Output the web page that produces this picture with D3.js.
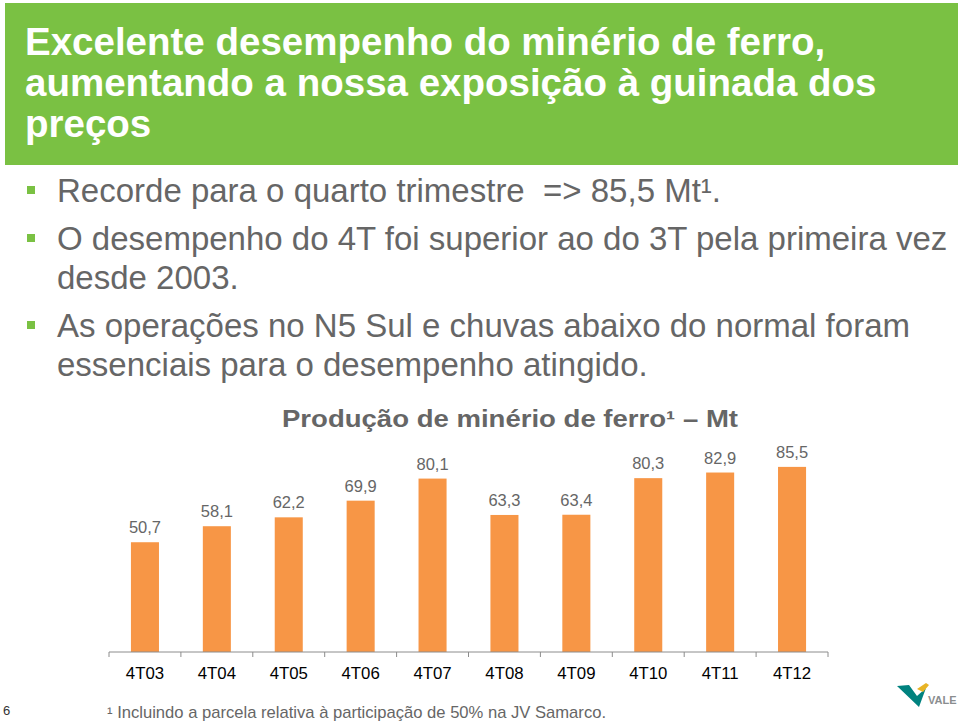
<!DOCTYPE html>
<html>
<head>
<meta charset="utf-8">
<script src="https://cdn.jsdelivr.net/npm/d3@7"></script>
<style>
  body { margin: 0; background: #fff; }
  svg text { white-space: pre; }
</style>
</head>
<body>
<svg id="slide" width="959" height="722" font-family="Liberation Sans"></svg>
<script>
// données du graphique
const trimestres = ["4T03", "4T04", "4T05", "4T06", "4T07", "4T08", "4T09", "4T10", "4T11", "4T12"];
const producao = [50.7, 58.1, 62.2, 69.9, 80.1, 63.3, 63.4, 80.3, 82.9, 85.5];
const rotulos = ["50,7", "58,1", "62,2", "69,9", "80,1", "63,3", "63,4", "80,3", "82,9", "85,5"];

const titulo = ["Excelente desempenho do minério de ferro,", "aumentando a nossa exposição à guinada dos", "preços"];
const bullets = [
  { lines: ["Recorde para o quarto trimestre  => 85,5 Mt¹."], y: 202 },
  { lines: ["O desempenho do 4T foi superior ao do 3T pela primeira vez", "desde 2003."], y: 250 },
  { lines: ["As operações no N5 Sul e chuvas abaixo do normal foram", "essenciais para o desempenho atingido."], y: 337 },
];

const svg = d3.select("#slide");

// bandeau vert du titre
svg.append("rect").attr("x", 5).attr("y", 3).attr("width", 953).attr("height", 162).attr("fill", "#7ac143");
titulo.forEach((t, i) => {
  svg.append("text")
    .attr("x", 25).attr("y", 55 + i * 41)
    .attr("fill", "#fff").attr("font-size", 38.5).attr("font-weight", "bold")
    .text(t);
});

// puces
bullets.forEach((b) => {
  svg.append("rect").attr("x", 27).attr("y", b.y - 16).attr("width", 8).attr("height", 8).attr("fill", "#7ac143");
  b.lines.forEach((l, j) => {
    svg.append("text")
      .attr("x", 57).attr("y", b.y + j * 39)
      .attr("fill", "#666").attr("font-size", 33)
      .text(l);
  });
});

// titre du graphique (étiré comme dans l'original)
svg.append("text")
  .attr("x", 282).attr("y", 427)
  .attr("fill", "#666").attr("font-size", 23).attr("font-weight", "bold")
  .attr("textLength", 456).attr("lengthAdjust", "spacingAndGlyphs")
  .text("Produção de minério de ferro¹ – Mt");

// graphique en barres
const baseY = 652;
const x = d3.scaleBand().domain(trimestres).range([109, 828]).paddingInner(0.61).paddingOuter(0.305);
const y = d3.scaleLinear().domain([0, 100]).range([baseY, baseY - 216.5]);

const g = svg.append("g");
g.selectAll(".bar")
  .data(producao)
  .enter()
  .append("rect")
  .attr("class", "bar")
  .attr("x", (d, i) => x(trimestres[i]))
  .attr("y", (d) => y(d))
  .attr("width", x.bandwidth())
  .attr("height", (d) => baseY - y(d))
  .attr("fill", "#f79646");

g.selectAll(".val")
  .data(producao)
  .enter()
  .append("text")
  .attr("class", "val")
  .attr("x", (d, i) => x(trimestres[i]) + x.bandwidth() / 2)
  .attr("y", (d) => y(d) - 9)
  .attr("text-anchor", "middle")
  .attr("fill", "#666").attr("font-size", 16.5)
  .text((d, i) => rotulos[i]);

// axe des catégories
const axisG = svg.append("g").attr("transform", `translate(0,${baseY})`);
axisG.append("line").attr("x1", 109).attr("x2", 828).attr("stroke", "#8c8c8c").attr("stroke-width", 1);
const bornes = trimestres.map((t, i) => 109 + x.step() * i).concat([828]);
axisG.selectAll(".tk")
  .data(bornes)
  .enter()
  .append("line")
  .attr("x1", (d) => d).attr("x2", (d) => d)
  .attr("y1", 0).attr("y2", 5)
  .attr("stroke", "#8c8c8c");
axisG.selectAll(".lab")
  .data(trimestres)
  .enter()
  .append("text")
  .attr("x", (d) => x(d) + x.bandwidth() / 2)
  .attr("y", 27)
  .attr("text-anchor", "middle")
  .attr("fill", "#000").attr("font-size", 16.8)
  .text((d) => d);

// note de bas de page
svg.append("text").attr("x", 107).attr("y", 718).attr("fill", "#666").attr("font-size", 16.6)
  .text("¹ Incluindo a parcela relativa à participação de 50% na JV Samarco.");
svg.append("text").attr("x", 3).attr("y", 715).attr("fill", "#333").attr("font-size", 13).text("6");

// logo Vale (approximation)
const logo = svg.append("g").attr("transform", "translate(897,683)");
logo.append("path").attr("d", "M0,3 L12,2 L20,13 L29,5 L22,24 Z").attr("fill", "#00827f");
logo.append("path").attr("d", "M20,6 L29,0 L32,2 L26,9 Z").attr("fill", "#e8b425");
logo.append("text").attr("x", 31).attr("y", 21).attr("fill", "#8a8d8f").attr("font-size", 11)
  .attr("font-weight", "bold").text("VALE");
</script>
</body>
</html>
